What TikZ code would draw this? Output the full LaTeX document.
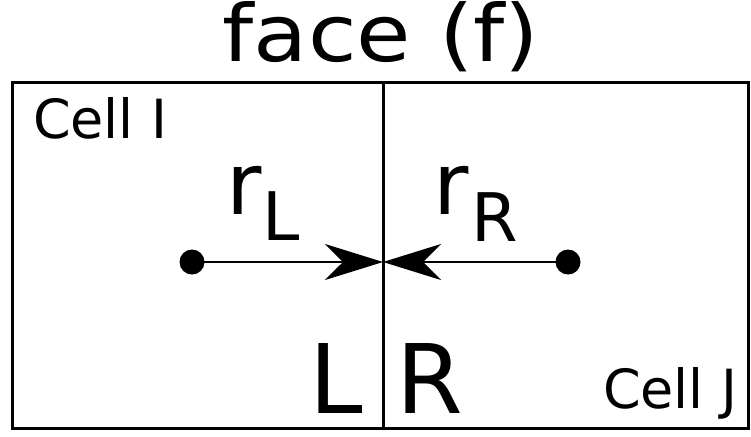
\documentclass[tikz,border=0pt]{standalone}
\usepackage{fontspec}
\setmainfont{DejaVu Sans}
\usetikzlibrary{arrows.meta}
\newcommand{\fs}[1]{\fontsize{#1pt}{#1pt}\selectfont}
\tikzset{
  lbl/.style={anchor=base west, inner sep=0pt, outer sep=0pt},
  dotnode/.style={circle, fill=black, minimum size=25pt, inner sep=0pt},
  vec/.style={line width=2.2pt, -{Stealth[length=58pt, width=36pt, inset=18pt]}}
}
\begin{document}
\begin{tikzpicture}[x=1pt, y=-1pt]
\useasboundingbox (0,0) rectangle (751,436);
\draw[line width=3pt] (12,82) rectangle (748,428);
\coordinate (ftop) at (383,82);
\coordinate (fbot) at (383,428);
\coordinate (fmid) at (383,262);
\draw[line width=3pt] (ftop) -- (fbot);
\node[anchor=base, inner sep=0pt] (title) at (381,62) {\scalebox{1.12}[1]{\fs{79}face (f)}};
\node[lbl] (cellI) at (33,138) {\fs{54}Cell I};
\node[lbl] (cellJ) at (603,408) {\fs{54}Cell J};
\node[dotnode] (dl) at (192,262) {};
\node[dotnode] (dr) at (568,262) {};
\draw[vec] (dl.center) -- (fmid);
\draw[vec] (dr.center) -- (fmid);
\node[lbl] (rl) at (226,214) {\fs{86}r\kern1pt\raisebox{-26pt}{\fs{67}L}};
\node[lbl] (rr) at (433,214) {\fs{86}r\kern3pt\raisebox{-27pt}{\fs{67}R}};
\node[lbl] (bigL) at (309,413) {\fs{96}L};
\node[lbl] (bigR) at (396,413) {\fs{96}R};
\end{tikzpicture}
\end{document}
